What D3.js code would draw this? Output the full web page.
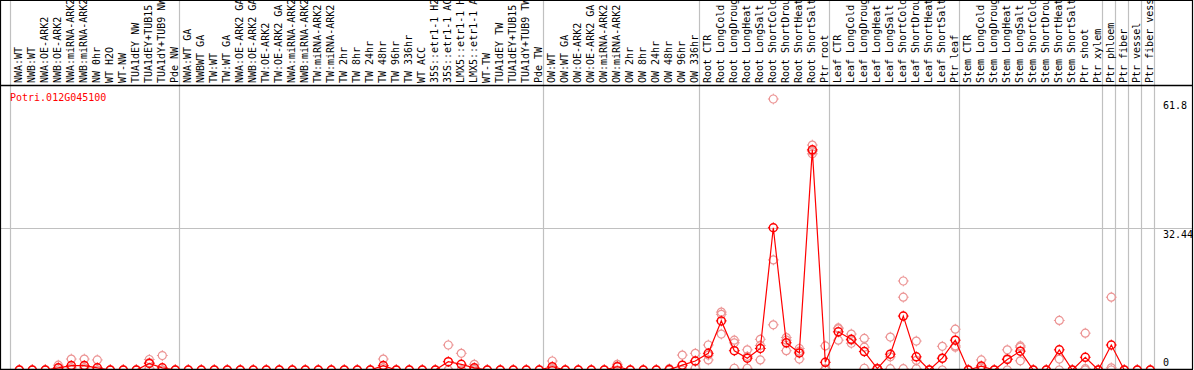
<!DOCTYPE html>
<html>
<head>
<meta charset="utf-8">
<script src="https://cdn.jsdelivr.net/npm/d3@7"></script>
<style>
  body { margin: 0; background: #fff; }
  text { font-family: "DejaVu Sans Mono", monospace; font-size: 10px; }
</style>
</head>
<body>
<div id="chart"></div>
<script>
var geneName = 'Potri.012G045100';

var samples = [
  'NWA:WT', 'NWB:WT', 'NWA:OE-ARK2', 'NWB:OE-ARK2', 'NWA:miRNA-ARK2', 'NWB:miRNA-ARK2',
  'NW 0hr', 'WT H2O', 'WT-NW', 'TUA1dEY NW', 'TUA1dEY+TUB15 NW', 'TUA1dY+TUB9 NW', 'Pde NW',
  'NWA:WT GA', 'NWBWT GA', 'TW:WT', 'TW:WT GA', 'NWA:OE-ARK2 GA', 'NWB:OE-ARK2 GA',
  'TW:OE-ARK2', 'TW:OE-ARK2 GA', 'NWA:miRNA-ARK2', 'NWB:miRNA-ARK2', 'TW:miRNA-ARK2',
  'TW:miRNA-ARK2', 'TW 2hr', 'TW 8hr', 'TW 24hr', 'TW 48hr', 'TW 96hr', 'TW 336hr', 'WT ACC',
  '35S::etr1-1 H2O', '35S::etr1-1 ACC', 'LMX5::etr1-1 H2O', 'LMX5::etr1-1 ACC', 'WT-TW',
  'TUA1dEY TW', 'TUA1dEY+TUB15 TW', 'TUA1dY+TUB9 TW', 'Pde TW',
  'OW:WT', 'OW:WT GA', 'OW:OE-ARK2', 'OW:OE-ARK2 GA', 'OW:miRNA-ARK2', 'OW:miRNA-ARK2',
  'OW 2hr', 'OW 8hr', 'OW 24hr', 'OW 48hr', 'OW 96hr', 'OW 336hr',
  'Root CTR', 'Root LongCold', 'Root LongDrought', 'Root LongHeat', 'Root LongSalt',
  'Root ShortCold', 'Root ShortDrought', 'Root ShortHeat', 'Root ShortSalt', 'Ptr root',
  'Leaf CTR', 'Leaf LongCold', 'Leaf LongDrought', 'Leaf LongHeat', 'Leaf LongSalt',
  'Leaf ShortCold', 'Leaf ShortDrought', 'Leaf ShortHeat', 'Leaf ShortSalt', 'Ptr leaf',
  'Stem CTR', 'Stem LongCold', 'Stem LongDrought', 'Stem LongHeat', 'Stem LongSalt',
  'Stem ShortCold', 'Stem ShortDrought', 'Stem ShortHeat', 'Stem ShortSalt', 'Ptr shoot',
  'Ptr xylem', 'Ptr phloem', 'Ptr fiber', 'Ptr vessel', 'Ptr fiber vessel'
];

// last sample index of each group (a grey divider follows it)
var groupEnds = [12, 40, 52, 62, 72, 83, 84, 85, 86, 87];

var means = [
  0, 0, 0, 0.5, 1.0, 1.0, 0.5, 0, 0, 0, 1.5, 0.5, 0,
  0, 0, 0, 0, 0, 0, 0, 0, 0, 0, 0, 0, 0, 0, 0, 1.0, 0, 0, 0, 0, 1.9, 1.3, 0.5, 0, 0, 0, 0, 0,
  0.75, 0, 0, 0, 0, 0.75, 0, 0, 0, 0.1, 1.1, 2.05,
  3.8, 11.2, 4.4, 2.7, 4.9, 32.44, 6.2, 3.9, 50.2, 1.75,
  8.7, 7.0, 4.2, 0.3, 3.6, 12.3, 3.0, 0, 2.7, 6.8,
  0, 0.9, 0, 2.4, 4.3, 0, 0, 4.6, 0, 2.9, 0,
  5.7, 0, 0, 0
];

var replicates = [
  [0, 0, 0], [0, 0, 0], [0, 0, 0], [1.1, 0.4, 0], [2.5, 0.5, 0], [2.5, 0.5, 0], [2.3, 0, 0],
  [0, 0, 0], [0, 0, 0], [0, 0, 0], [2.4, 1.7, 0.4], [3.3, 0, 0], [0, 0, 0],
  [0, 0, 0], [0, 0, 0], [0, 0, 0], [0, 0, 0], [0, 0, 0], [0, 0, 0], [0, 0, 0], [0, 0, 0],
  [0, 0, 0], [0, 0, 0], [0, 0, 0], [0, 0, 0], [0, 0, 0], [0, 0, 0], [0, 0, 0], [2.5, 0.5, 0],
  [0, 0, 0], [0, 0, 0], [0, 0, 0], [0, 0, 0], [5.7, 0, 0], [3.8, 0, 0], [1.3, 0.2, 0],
  [0, 0, 0], [0, 0, 0], [0, 0, 0], [0, 0, 0], [0, 0, 0],
  [2.05, 0.2, 0], [0, 0, 0], [0, 0, 0], [0, 0, 0], [0, 0, 0], [1.3, 0.9, 0], [0, 0, 0],
  [0, 0, 0], [0, 0, 0], [0.3, 0, 0], [3.4, 0, 0], [3.8, 2.0, 0.4],
  [5.7, 3.4, 2.3], [13.2, 12.7, 8.2], [6.8, 6.2, 0.4], [4.6, 3.1, 0.4], [7.0, 5.6, 2.3],
  [61.8, 25.1, 10.3], [7.4, 6.8, 4.4], [4.9, 4.3, 2.5], [51.3, 49.9, 49.3], [5.5, 0.3, 0],
  [9.6, 9.4, 6.8], [8.2, 6.8, 6.1], [7.2, 5.2, 0.4], [0.4, 0.3, 0.2], [7.5, 3.0, 0.3],
  [20.3, 16.6, 0.3], [6.6, 2.2, 0.3], [0, 0, 0], [5.4, 2.6, 0], [9.3, 5.5, 5.2],
  [0, 0, 0], [2.3, 0.4, 0], [0, 0, 0], [4.6, 2.6, 0], [5.5, 5.2, 2.1], [0, 0, 0], [0, 0, 0],
  [11.3, 2.5, 0], [0, 0, 0], [8.4, 0.3, 0], [0, 0, 0],
  [16.6, 0.5, 0], [0, 0, 0], [0, 0, 0], [0, 0, 0]
];

var tickValues = [61.8, 32.44, 0];

var width = 1194,
    height = 370,
    headerBottom = 85,
    rightEdge = 1192,
    bottomEdge = 369;

var meanColor = '#ff0000',
    repColor = '#ec9494',
    gridColor = '#c0c0c0';

var svg = d3.select('#chart').append('svg')
    .attr('width', width)
    .attr('height', height);

var x = d3.scaleBand()
    .domain(d3.range(samples.length))
    .range([10, 10 + samples.length * 13]);

var y = d3.scaleLinear()
    .domain([0, 61.8])
    .range([370, 99]);

function cx(i) {
    return x(i) + 9.3;
}

// grey dividers between sample groups
var dividers = [10].concat(groupEnds.map(function(i) { return x(i) + x.bandwidth(); }));

svg.selectAll('line.divider')
    .data(dividers)
    .enter().append('line')
    .attr('class', 'divider')
    .attr('x1', function(d) { return Math.round(d) + 0.5; })
    .attr('x2', function(d) { return Math.round(d) + 0.5; })
    .attr('y1', 0)
    .attr('y2', bottomEdge)
    .style('stroke', gridColor)
    .style('stroke-width', 1.2);

svg.append('line')
    .attr('x1', 0).attr('x2', rightEdge)
    .attr('y1', Math.round(y(32.44)) + 0.5).attr('y2', Math.round(y(32.44)) + 0.5)
    .style('stroke', gridColor)
    .style('stroke-width', 1.2);

// rotated sample names in the header
svg.selectAll('text.sample')
    .data(samples)
    .enter().append('text')
    .attr('class', 'sample')
    .attr('transform', function(d, i) {
        return 'translate(' + (cx(i) + 2.6) + ',' + 83 + ') rotate(-90)';
    })
    .style('fill', '#000')
    .text(function(d) { return d; });

svg.append('line')
    .attr('x1', 0).attr('x2', rightEdge)
    .attr('y1', headerBottom + 0.5).attr('y2', headerBottom + 0.5)
    .style('stroke', '#000')
    .style('stroke-width', 1.5);

svg.append('text')
    .attr('x', 10)
    .attr('y', 101)
    .style('fill', meanColor)
    .text(geneName);

svg.selectAll('text.tick')
    .data(tickValues)
    .enter().append('text')
    .attr('class', 'tick')
    .attr('x', 1163)
    .attr('y', function(d) { return Math.min(y(d) + 10, 366); })
    .style('fill', '#000')
    .text(function(d) { return d; });

var tickPath = 'M0,-5.4V-4M0,4V5.4M-5.4,0H-4M4,0H5.4';

function drawMarker(g, color, sw) {
    g.append('circle')
        .attr('r', 4)
        .style('fill', 'none')
        .style('stroke', color)
        .style('stroke-width', sw);
    g.append('path')
        .attr('d', tickPath)
        .style('stroke', color)
        .style('stroke-width', 1);
}

// replicate points
var repData = [];
replicates.forEach(function(r, i) {
    r.forEach(function(v) { repData.push({ i: i, v: v }); });
});

svg.selectAll('g.rep')
    .data(repData)
    .enter().append('g')
    .attr('class', 'rep')
    .attr('transform', function(d) { return 'translate(' + cx(d.i) + ',' + y(d.v) + ')'; })
    .each(function() { drawMarker(d3.select(this), repColor, 1.2); });

var line = d3.line()
    .x(function(d, i) { return cx(i); })
    .y(function(d) { return y(d); });

svg.append('path')
    .datum(means)
    .attr('d', line)
    .style('fill', 'none')
    .style('stroke', meanColor)
    .style('stroke-width', 1.2);

svg.selectAll('g.mean')
    .data(means)
    .enter().append('g')
    .attr('class', 'mean')
    .attr('transform', function(d, i) { return 'translate(' + cx(i) + ',' + y(d) + ')'; })
    .each(function() { drawMarker(d3.select(this), meanColor, 1.5); });

// frame
svg.append('path')
    .attr('d', 'M0.5,' + bottomEdge + 'V0.5H' + (rightEdge + 0.5) + 'V' + bottomEdge)
    .style('fill', 'none')
    .style('stroke', '#000')
    .style('stroke-width', 1.2);

svg.append('line')
    .attr('x1', 0).attr('x2', rightEdge + 1)
    .attr('y1', bottomEdge + 0.5).attr('y2', bottomEdge + 0.5)
    .style('stroke', '#000')
    .style('stroke-width', 1.5);
</script>
</body>
</html>
